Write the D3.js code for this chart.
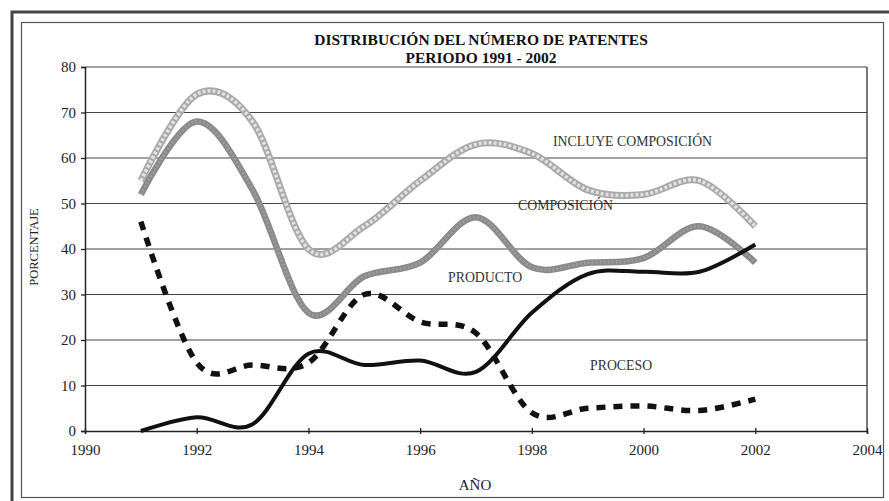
<!DOCTYPE html>
<html>
<head>
<meta charset="utf-8">
<script src="https://cdn.jsdelivr.net/npm/d3@7"></script>
<style>
  body { margin: 0; background: #fff; }
  svg { display: block; font-family: "Liberation Serif", "DejaVu Serif", serif; }
</style>
</head>
<body>
<svg id="chart" width="889" height="501"></svg>
<script>
// years with one value per series
const years = [1991, 1992, 1993, 1994, 1995, 1996, 1997, 1998, 1999, 2000, 2001, 2002]
const incluyeComposicion = [55, 74, 68, 40, 45, 55, 63, 61, 53, 52, 55, 45]
const composicion = [52, 68, 53, 26, 34, 37, 47, 36, 37, 38, 45, 37]
const producto = [46, 15, 14.5, 15, 30, 24, 21.5, 4, 5, 5.5, 4.5, 7]
const proceso = [0, 3, 1.5, 17, 14.5, 15.5, 13, 26, 34.5, 35, 35, 41]

const xTicks = [1990, 1992, 1994, 1996, 1998, 2000, 2002, 2004]
const yTicks = [0, 10, 20, 30, 40, 50, 60, 70, 80]

const svg = d3.select('#chart')

const margin = {left: 85, right: 867, top: 67, bottom: 431}

const x = d3.scaleLinear().domain([1990, 2004]).range([margin.left, margin.right])
const y = d3.scaleLinear().domain([0, 80]).range([margin.bottom, margin.top])

// frames
svg.append('rect')
    .attr('x', 12).attr('y', 12)
    .attr('width', 890).attr('height', 500)
    .attr('fill', 'none')
    .attr('stroke', '#444')
    .attr('stroke-width', 3)
svg.append('rect')
    .attr('x', 21.5).attr('y', 22.5)
    .attr('width', 862).attr('height', 475)
    .attr('fill', 'none')
    .attr('stroke', '#555')
    .attr('stroke-width', 1.2)

// gridlines
svg.append('g')
    .selectAll('line')
    .data(yTicks.filter(d => d > 0))
    .join('line')
    .attr('x1', margin.left).attr('x2', margin.right)
    .attr('y1', d => y(d)).attr('y2', d => y(d))
    .attr('stroke', '#444')
    .attr('stroke-width', 1)

// plot right border
svg.append('line')
    .attr('x1', margin.right).attr('x2', margin.right)
    .attr('y1', margin.top).attr('y2', margin.bottom)
    .attr('stroke', '#333').attr('stroke-width', 1.3)

// y axis
let yAxis = svg.append('g')
    .attr('transform', `translate(${margin.left},0)`)
    .call(d3.axisLeft(y).tickValues(yTicks).tickSize(4).tickPadding(5))
yAxis.select('.domain').attr('stroke', '#222').attr('stroke-width', 1.5)
yAxis.selectAll('.tick line').attr('stroke', '#222').attr('stroke-width', 1.3)
yAxis.selectAll('text')
    .attr('font-family', '"Liberation Serif", serif')
    .attr('font-size', 15)
    .attr('fill', '#222')

// x axis
let xAxis = svg.append('g')
    .attr('transform', `translate(0,${margin.bottom})`)
    .call(d3.axisBottom(x).tickValues(xTicks).tickFormat(d3.format('d')).tickSize(3).tickPadding(10))
xAxis.select('.domain').attr('stroke', '#222').attr('stroke-width', 1.5)
xAxis.selectAll('.tick line').attr('stroke', '#222').attr('stroke-width', 1.3).attr('y1', -3)
xAxis.selectAll('text')
    .attr('font-family', '"Liberation Serif", serif')
    .attr('font-size', 15)
    .attr('fill', '#222')

// series
const line = d3.line()
    .x(d => x(d[0]))
    .y(d => y(d[1]))
    .curve(d3.curveCatmullRom.alpha(0))

const pairs = vals => years.map((yr, i) => [yr, vals[i]])

let lines = svg.append('g').attr('fill', 'none').attr('stroke-linecap', 'butt')

// incluye composicion: textured light line
lines.append('path')
    .attr('d', line(pairs(incluyeComposicion)))
    .attr('stroke', '#a9a9a9')
    .attr('stroke-width', 7)
lines.append('path')
    .attr('d', line(pairs(incluyeComposicion)))
    .attr('stroke', '#e2e2e2')
    .attr('stroke-width', 3.5)
    .attr('stroke-dasharray', '3,2')

// composicion
lines.append('path')
    .attr('d', line(pairs(composicion)))
    .attr('stroke', '#8a8a8a')
    .attr('stroke-width', 6.5)
lines.append('path')
    .attr('d', line(pairs(composicion)))
    .attr('stroke', '#9c9c9c')
    .attr('stroke-width', 3)
    .attr('stroke-dasharray', '2,2')

// dashed
lines.append('path')
    .attr('d', line(pairs(producto)))
    .attr('stroke', '#111')
    .attr('stroke-width', 5.5)
    .attr('stroke-dasharray', '9,8')

// solid black
lines.append('path')
    .attr('d', line(pairs(proceso)))
    .attr('stroke', '#111')
    .attr('stroke-width', 4)

// titles
svg.append('text')
    .attr('x', 481).attr('y', 45)
    .attr('text-anchor', 'middle')
    .attr('font-weight', 'bold')
    .attr('font-size', 15.5)
    .attr('fill', '#111')
    .text('DISTRIBUCIÓN DEL NÚMERO DE PATENTES')
svg.append('text')
    .attr('x', 481).attr('y', 63)
    .attr('text-anchor', 'middle')
    .attr('font-weight', 'bold')
    .attr('font-size', 15.5)
    .attr('fill', '#111')
    .text('PERIODO 1991 - 2002')

svg.append('text')
    .attr('x', 475).attr('y', 490)
    .attr('text-anchor', 'middle')
    .attr('font-size', 15)
    .attr('fill', '#222')
    .text('AÑO')

svg.append('text')
    .attr('transform', 'translate(38,247) rotate(-90)')
    .attr('text-anchor', 'middle')
    .attr('font-size', 12.5)
    .attr('fill', '#222')
    .text('PORCENTAJE')

// series labels
const labels = [
    {text: 'INCLUYE COMPOSICIÓN', x: 553, y: 146},
    {text: 'COMPOSICIÓN', x: 518, y: 210},
    {text: 'PRODUCTO', x: 448, y: 282},
    {text: 'PROCESO', x: 590, y: 370}
]
svg.append('g')
    .selectAll('text')
    .data(labels)
    .join('text')
    .attr('x', d => d.x).attr('y', d => d.y)
    .attr('font-size', 13.8)
    .attr('fill', '#333')
    .text(d => d.text)
</script>
</body>
</html>
